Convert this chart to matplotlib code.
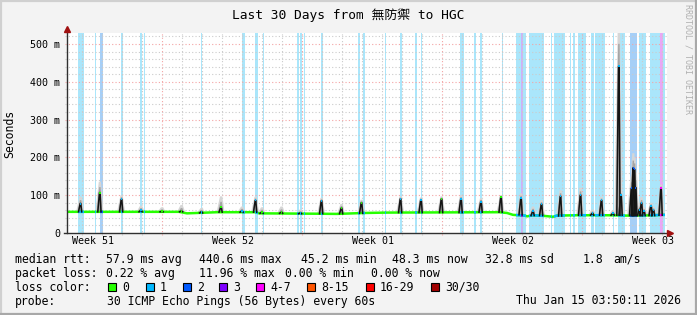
import numpy as np
import matplotlib
matplotlib.use("Agg")
import matplotlib.pyplot as plt
from matplotlib.patches import Rectangle
from matplotlib.lines import Line2D

plt.rcParams['font.family'] = ['DejaVu Sans Mono', 'Noto Sans CJK TC']

W, H = 697, 315

# ---- data: time in days since the start of the 30 day window, rtt in ms ----
title = "Last 30 Days from 無防禦 to HGC"
week_labels = ["Week 51", "Week 52", "Week 01", "Week 02", "Week 03"]
first_label_day = 1.275
first_week_line = 4.765
y_ticks = [0, 100, 200, 300, 400, 500]

# median rtt baseline
base_t = [0.0, 5.6, 6.0, 6.5, 7.5, 9.45, 9.6, 12.5, 13.5, 14.9, 16.0, 21.6,
          22.0, 22.3, 22.9, 23.0, 23.3, 23.9, 24.3, 24.5, 25.5, 27.0, 28.0,
          29.0, 29.9]
base_ms = [56, 56, 52, 53, 55, 55, 52, 51, 50.5, 53, 54, 55,
           53, 48, 46, 44, 47, 45, 43, 46, 47, 47, 46,
           46.5, 48]

# daily peaks: time, baseline under the peak, median peak, top of smoke
spike_t = [0.675, 1.64, 2.725, 3.70, 4.75, 5.725, 6.725, 7.70, 8.75, 9.425,
           9.75, 10.725, 11.675, 12.725, 13.725, 14.725, 16.675, 17.70, 18.725,
           19.70, 20.70, 21.70, 22.70, 23.30, 23.725, 24.675, 25.675, 26.275,
           26.725, 27.30, 27.59, 27.70, 28.225, 28.31, 28.375, 28.435, 28.625,
           28.725, 28.85, 29.20, 29.325, 29.70]
spike_base = [56, 56, 56, 56, 56, 56, 53, 55, 55, 55,
              52, 52, 51, 51, 51, 52, 54, 54, 54,
              54, 55, 55, 48, 46, 46, 45, 47, 47,
              47, 47, 47, 47, 46, 46, 46, 46, 46,
              46, 46, 46, 46, 47]
spike_ms = [78, 107, 89, 60, 57, 58, 56, 68, 58, 86,
            55, 55, 53, 85, 66, 80, 90, 88, 90,
            90, 83, 96, 92, 58, 76, 97, 100, 52,
            86, 52, 440.6, 100, 118, 172, 168, 120, 62,
            79, 58, 72, 60, 118]
spike_smoke = [96, 136, 100, 72, 68, 74, 66, 97, 70, 96,
               68, 70, 62, 93, 77, 88, 97, 94, 97,
               100, 92, 100, 105, 70, 87, 113, 120, 62,
               96, 60, 560, 110, 150, 211, 200, 160, 72,
               95, 68, 80, 70, 128]

# periods with packet loss (loss class index)
band_start = [0.57, 1.40, 1.65, 2.70, 3.67, 3.85, 6.70, 8.73, 9.40, 9.78,
              11.50, 11.67, 11.83, 12.72, 14.57, 14.80, 15.90, 16.66, 17.41,
              17.70, 19.65, 20.36, 20.65, 21.73, 22.43, 22.50, 22.70, 22.78,
              23.12, 23.56, 24.19, 24.34, 24.60, 25.15, 25.32, 25.54, 26.20,
              26.38, 26.62, 27.29, 27.55, 28.15, 28.60, 29.15, 29.65, 29.79]
band_end = [0.84, 1.45, 1.79, 2.78, 3.77, 3.90, 6.76, 8.90, 9.54, 9.85,
            11.59, 11.74, 11.90, 12.78, 14.64, 14.89, 15.95, 16.73, 17.52,
            17.77, 19.85, 20.43, 20.77, 21.80, 22.50, 22.70, 22.78, 22.93,
            23.53, 23.83, 24.27, 24.60, 24.90, 25.22, 25.40, 25.94, 26.33,
            26.58, 26.89, 27.35, 27.90, 28.49, 28.94, 29.65, 29.79, 29.88]
band_loss = [1, 1, 2, 1, 1, 1, 1, 1, 1, 1,
             1, 1, 1, 1, 1, 1, 1, 1, 1,
             1, 1, 1, 1, 1, 1, 1, 3, 1,
             1, 1, 1, 1, 1, 1, 1, 1, 1,
             1, 1, 1, 1, 2, 1, 1, 4, 1]

loss_labels = ["0", "1", "2", "3", "4-7", "8-15", "16-29", "30/30"]

stats_rtt = ["median rtt:", "57.9 ms avg", "440.6 ms max", "45.2 ms min",
             "48.3 ms now", "32.8 ms sd", "1.8", "am/s"]
stats_loss = ["packet loss:", "0.22 % avg", "11.96 % max", "0.00 % min",
              "0.00 % now"]
probe_text = ["probe:", "30 ICMP Echo Pings (56 Bytes) every 60s"]
stamp = "Thu Jan 15 03:50:11 2026"

# ---- styles ----
loss_colors = ['#26ff00', '#00b8ff', '#0059ff', '#7e00ff', '#ff00ff',
               '#ff5500', '#ff0000', '#a00000']
band_colors = {1: '#aae6fb', 2: '#a6cff7', 3: '#cdb2fa', 4: '#eaa6f5'}
BG = '#f3f3f3'
MAJOR = '#f4a4a4'
MINOR = '#cbcbcb'
ARROW = '#a01010'
YMAX = 529


def fx(px):
    return px / W


def fy(py):
    return 1 - py / H


fig = plt.figure(figsize=(W / 100, H / 100), dpi=100, facecolor=BG)
ax = fig.add_axes([fx(67), fy(233), 600 / W, 200 / H])
ax.set_xlim(0, 30)
ax.set_ylim(0, YMAX)
ax.set_facecolor('white')
for s in ax.spines.values():
    s.set_visible(False)

# loss bands
for a, b, k in zip(band_start, band_end, band_loss):
    ax.axvspan(a, b, color=band_colors[k], lw=0, zorder=1)

# grid
for v in range(20, YMAX, 20):
    ax.plot([-0.12, 30], [v, v], ls=(0, (1, 2)), lw=0.8,
            color=MAJOR if v % 100 == 0 else MINOR, clip_on=False, zorder=2)
for d in np.arange(first_week_line - 4, 30, 1.0):
    major = abs((d - first_week_line) % 7) < 1e-6
    ax.plot([d, d], [-5, YMAX], ls=(0, (1, 2)), lw=0.8,
            color=MAJOR if major else MINOR, clip_on=False, zorder=2)

# smoke around the daily peaks
rise, top, fall = 0.1, 0.03, 0.06
for t, b, p, s in zip(spike_t, spike_base, spike_ms, spike_smoke):
    ax.fill([t - rise - 0.12, t - 0.05, t + 0.06, t + fall + 0.12],
            [b, s, s, b], color='#d6d6d6', lw=0, zorder=3)
    mid = p + (s - p) * 0.5
    ax.fill([t - rise - 0.06, t - 0.03, t + 0.04, t + fall + 0.06],
            [b, mid, mid, b], color='#a4a4a4', lw=0, zorder=3.1)

# median line, coloured by loss
ax.plot(base_t, base_ms, color=loss_colors[0], lw=1.8, zorder=4,
        solid_capstyle='butt')
for a, b, k in zip(band_start, band_end, band_loss):
    ln, = ax.plot(base_t, base_ms, color=loss_colors[k], lw=1.8, zorder=4.1,
                  solid_capstyle='butt')
    ln.set_clip_path(Rectangle((a, 0), b - a, YMAX, transform=ax.transData))


def loss_at(t):
    for a, b, k in zip(band_start, band_end, band_loss):
        if a <= t <= b:
            return k
    return 0


for t, b, p in zip(spike_t, spike_base, spike_ms):
    ax.plot([t - rise, t - top / 2, t + top / 2, t + fall], [b, p, p, b],
            color='#151515', lw=1.1, zorder=5)
    ax.plot([t - top / 2 - 0.02, t + top / 2 + 0.02], [p, p],
            color=loss_colors[loss_at(t)], lw=1.4, zorder=5.1,
            solid_capstyle='butt')

# axes lines and arrows
ax.plot([0, 0], [0, 535], color='#303030', lw=1.0, clip_on=False, zorder=6)
ax.plot([-0.15, 30.1], [0, 0], color='#303030', lw=1.0, clip_on=False, zorder=6)
fig.add_artist(Line2D([fx(67)], [fy(29)], marker='^', ms=4.5, color=ARROW,
                      transform=fig.transFigure))
fig.add_artist(Line2D([fx(670)], [fy(233)], marker='>', ms=4.5, color=ARROW,
                      transform=fig.transFigure))

# ticks
ax.set_yticks(y_ticks)
ax.set_yticklabels([f"{v} m" if v else "0" for v in y_ticks])
ax.set_xticks([first_label_day + 7 * i for i in range(len(week_labels))])
ax.set_xticklabels(week_labels)
ax.tick_params(axis='y', length=0, pad=5, labelsize=7.2)
ax.tick_params(axis='x', length=0, pad=2.5, labelsize=7.2)

# texts
fig.text(0.5, fy(19), title, ha='center', va='baseline', fontsize=9.3)
fig.text(fx(10), fy(134), "Seconds", rotation=90, ha='center', va='center',
         fontsize=8.3)
fig.text(fx(688), fy(4), "RRDTOOL / TOBI OETIKER", rotation=270, ha='center',
         va='top', fontsize=6, color='#b0b0b0')

LS = 8.3
row_rtt_x = [16, 107, 200, 301.5, 393, 486, 583, 614]
for s, x in zip(stats_rtt, row_rtt_x):
    fig.text(fx(x - 0.7), fy(262.7), s, va='baseline', fontsize=LS)
row_loss_x = [16, 107, 200, 286, 372]
for s, x in zip(stats_loss, row_loss_x):
    fig.text(fx(x - 0.7), fy(276.7), s, va='baseline', fontsize=LS)

fig.text(fx(15.3), fy(290.7), "loss color:", va='baseline', fontsize=LS)
swatch_x = [108, 146, 183, 219, 256, 307, 366, 431]
for lbl, c, x in zip(loss_labels, loss_colors, swatch_x):
    fig.add_artist(Rectangle((fx(x), fy(291)), 8 / W, 8 / H, facecolor=c,
                             edgecolor='black', lw=0.8,
                             transform=fig.transFigure))
    fig.text(fx(x + 14), fy(290.7), lbl, va='baseline', fontsize=LS)

fig.text(fx(15.3), fy(304.5), probe_text[0], va='baseline', fontsize=LS)
fig.text(fx(106.6), fy(304.5), probe_text[1], va='baseline', fontsize=LS)
fig.text(fx(680.5), fy(304.5), stamp, ha='right', va='baseline', fontsize=LS)

# image frame
for xs, ys, c in [([0, 1], [fy(0.7)] * 2, '#d0d0d0'),
                  ([fx(0.7)] * 2, [0, 1], '#d0d0d0'),
                  ([0, 1], [fy(314)] * 2, '#a8a8a8'),
                  ([fx(696)] * 2, [0, 1], '#a8a8a8')]:
    fig.add_artist(Line2D(xs, ys, color=c, lw=1.6, transform=fig.transFigure))

fig.savefig("out.png", dpi=100, facecolor=BG)
